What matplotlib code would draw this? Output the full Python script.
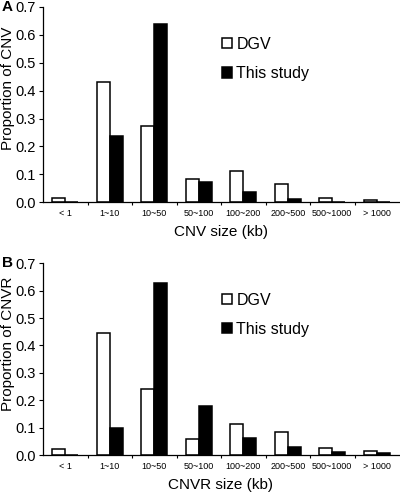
import numpy as np
import matplotlib.pyplot as plt
from matplotlib.patches import Patch

plt.rcParams['font.family'] = ['Liberation Sans', 'DejaVu Sans']

sizes = ['< 1', '1~10', '10~50', '50~100', '100~200', '200~500', '500~1000', '> 1000']

# panel A: CNV
cnv_dgv = [0.015, 0.43, 0.272, 0.083, 0.113, 0.065, 0.015, 0.008]
cnv_study = [0.002, 0.237, 0.64, 0.073, 0.035, 0.012, 0.002, 0.001]

# panel B: CNVR
cnvr_dgv = [0.022, 0.445, 0.242, 0.057, 0.112, 0.085, 0.025, 0.015]
cnvr_study = [0.002, 0.098, 0.627, 0.178, 0.063, 0.030, 0.010, 0.006]

fig = plt.figure(figsize=(4, 4.92), dpi=100)
axA = fig.add_axes([0.1075, 0.589, 0.89, 0.397])
axB = fig.add_axes([0.1075, 0.075, 0.89, 0.39])

x = np.arange(len(sizes))
w = 0.29

def draw(ax, dgv, study, xlabel, ylabel, tag, ylab_y):
    ax.bar(x - w/2, dgv, w, color='white', edgecolor='black', lw=1.1)
    ax.bar(x + w/2, study, w, color='black', edgecolor='black', lw=1.1)
    ax.set_xlim(-0.5, len(sizes) - 0.5)
    ax.set_ylim(0, 0.7)
    ax.set_yticks(np.arange(0, 0.71, 0.1))
    ax.set_yticklabels(['%.1f' % v for v in np.arange(0, 0.71, 0.1)], fontsize=10.5)
    ax.set_xticks(x)
    ax.set_xticklabels(sizes, fontsize=6.5)
    ax.set_xticks(np.arange(0.5, len(sizes) - 0.5), minor=True)
    ax.tick_params(axis='x', which='major', length=0, pad=5)
    ax.tick_params(axis='x', which='minor', length=2.5, width=0.8)
    ax.tick_params(axis='y', length=3, width=0.8, pad=2)
    for s in ['top', 'right']:
        ax.spines[s].set_visible(False)
    ax.spines['left'].set_linewidth(0.9)
    ax.spines['bottom'].set_linewidth(0.9)
    ax.set_xlabel(xlabel, fontsize=11, labelpad=5)
    ax.set_ylabel(ylabel, fontsize=11, va='center')
    ax.yaxis.set_label_coords(-0.098, ylab_y)
    handles = [Patch(facecolor='white', edgecolor='black', lw=1.1),
               Patch(facecolor='black', edgecolor='black', lw=1.1)]
    ax.legend(handles, ['DGV', 'This study'], loc='upper left',
              bbox_to_anchor=(0.485, 0.88), frameon=False, fontsize=11.5,
              handlelength=0.6, handleheight=0.6, handletextpad=0.3,
              labelspacing=0.9, borderaxespad=0)
    ax.text(-0.115, 1.0, tag, transform=ax.transAxes, fontsize=11,
            fontweight='bold', ha='left', va='center')

draw(axA, cnv_dgv, cnv_study, 'CNV size (kb)', 'Proportion of CNV', 'A', 0.585)
draw(axB, cnvr_dgv, cnvr_study, 'CNVR size (kb)', 'Proportion of CNVR', 'B', 0.578)

fig.savefig('out.png', dpi=100)
